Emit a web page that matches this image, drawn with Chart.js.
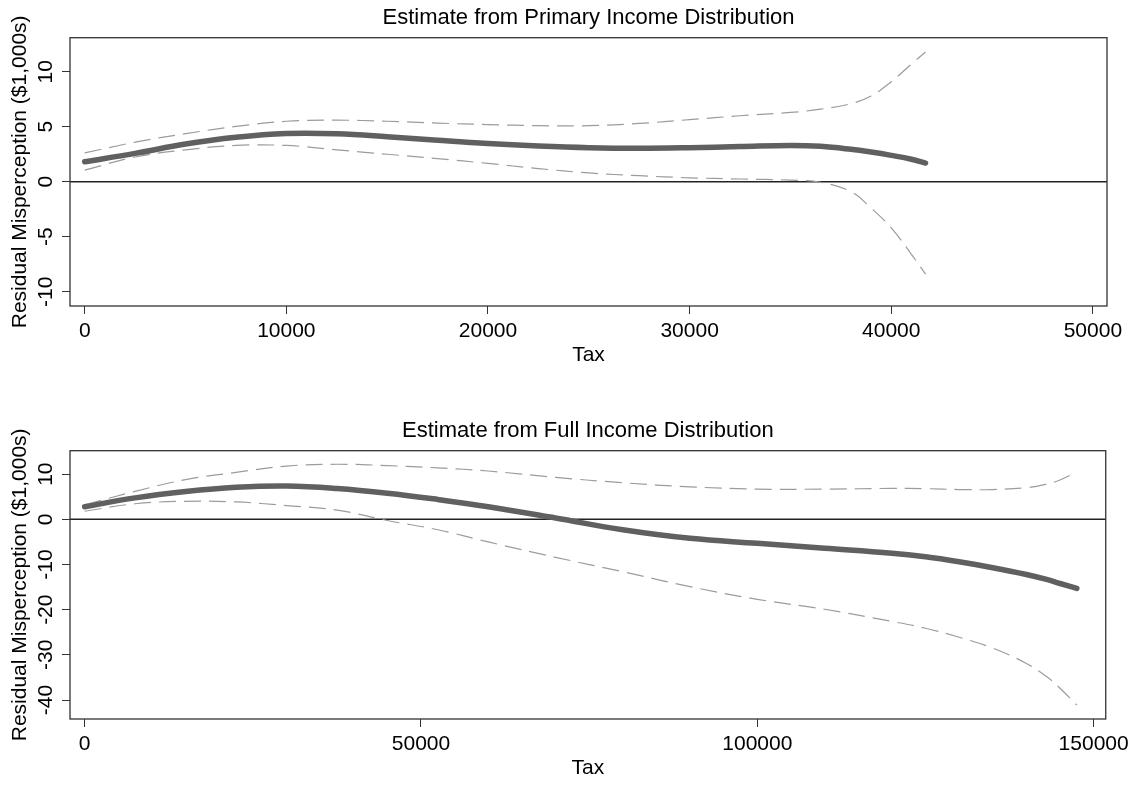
<!DOCTYPE html>
<html>
<head>
<meta charset="utf-8">
<script src="https://cdn.jsdelivr.net/npm/chart.js@4.4.1/dist/chart.umd.min.js"></script>
<style>
  html, body { margin: 0; padding: 0; background: #fff; overflow: hidden; }
  .panel { position: absolute; left: 0; width: 1134px; height: 373px; }
  #p1 { top: 0; }
  #p2 { top: 413px; }
</style>
</head>
<body>
<div class="panel" id="p1"><canvas id="chart1"></canvas></div>
<div class="panel" id="p2"><canvas id="chart2"></canvas></div>
<script>
// top panel: primary income distribution
const topTax = [0, 2500, 5000, 7500, 10000, 12500, 15000, 17500, 20000, 22500, 25000, 27500, 30000, 32500, 35000, 36500, 38000, 39000, 40000, 41000, 41700];
const topFit = [1.82, 2.58, 3.43, 4.04, 4.38, 4.36, 4.1, 3.77, 3.47, 3.25, 3.1, 3.05, 3.1, 3.2, 3.3, 3.22, 2.95, 2.7, 2.4, 2.05, 1.7];
const topUpper = [2.62, 3.6, 4.37, 5.03, 5.5, 5.6, 5.5, 5.33, 5.2, 5.1, 5.1, 5.3, 5.65, 6.0, 6.3, 6.6, 7.1, 7.8, 9.1, 10.7, 11.8];
const topLower = [1.06, 2.25, 2.9, 3.3, 3.3, 2.9, 2.5, 2.1, 1.67, 1.2, 0.8, 0.55, 0.36, 0.25, 0.15, -0.05, -0.9, -2.4, -4.2, -6.6, -8.4];
const topXTicks = [0, 10000, 20000, 30000, 40000, 50000];
const topYTicks = [-10, -5, 0, 5, 10];

// bottom panel: full income distribution
const fullTax = [0, 7500, 15000, 22500, 30000, 37500, 45000, 52500, 60000, 70000, 80000, 90000, 100000, 110000, 120000, 125000, 130000, 135000, 140000, 143000, 145000, 147500];
const fullFit = [2.8, 4.75, 6.15, 7.1, 7.4, 6.85, 5.8, 4.4, 2.8, 0.3, -2.3, -4.2, -5.3, -6.4, -7.5, -8.3, -9.4, -10.7, -12.2, -13.3, -14.2, -15.3];
const fullUpper = [3.2, 6.2, 8.8, 10.4, 11.8, 12.2, 11.9, 11.4, 10.7, 9.3, 8.1, 7.2, 6.7, 6.7, 6.85, 6.8, 6.6, 6.6, 7.0, 7.8, 8.7, 10.5];
const fullLower = [1.8, 3.45, 4.0, 3.85, 3.05, 2.05, -0.25, -2.3, -5.0, -8.4, -11.6, -14.9, -17.7, -19.9, -22.6, -24.1, -26.1, -28.5, -31.9, -34.8, -37.4, -41.1];
const fullXTicks = [0, 50000, 100000, 150000];
const fullYTicks = [-40, -30, -20, -10, 0, 10];

const refLine = 0;
const FONT = "'Liberation Sans', Arial, sans-serif";

function pts(xs, ys) {
  return xs.map((x, i) => ({ x: x, y: ys[i] }));
}

// box round the plot, zero line, and R-style vertical y tick labels
const rStyle = {
  id: "rStyle",
  beforeDatasetsDraw(chart) {
    const { ctx, chartArea, scales } = chart;
    const py = scales.y.getPixelForValue(refLine);
    ctx.save();
    ctx.strokeStyle = "#222";
    ctx.lineWidth = 1.5;
    ctx.beginPath();
    ctx.moveTo(chartArea.left, py);
    ctx.lineTo(chartArea.right, py);
    ctx.stroke();
    ctx.restore();
  },
  afterDraw(chart) {
    const { ctx, chartArea, scales } = chart;
    ctx.save();
    ctx.strokeStyle = "#333";
    ctx.lineWidth = 1.3;
    ctx.strokeRect(chartArea.left, chartArea.top, chartArea.right - chartArea.left, chartArea.bottom - chartArea.top);
    ctx.fillStyle = "#000";
    ctx.font = "21px " + FONT;
    ctx.textAlign = "center";
    ctx.textBaseline = "alphabetic";
    scales.y.ticks.forEach((t) => {
      const py = scales.y.getPixelForValue(t.value);
      ctx.save();
      ctx.translate(51.5, py);
      ctx.rotate(-Math.PI / 2);
      ctx.fillText(String(t.value), 0, 0);
      ctx.restore();
    });
    ctx.restore();
  },
};

function makeChart(id, title, xs, fit, upper, lower, xRange, yRange, xTicks, yTicks) {
  const band = {
    borderColor: "#9c9c9c",
    borderWidth: 1.2,
    borderDash: [17, 8],
    pointRadius: 0,
    showLine: true,
    fill: false,
    tension: 0.4,
  };
  return new Chart(document.getElementById(id).getContext("2d"), {
    type: "scatter",
    data: {
      datasets: [
        {
          data: pts(xs, fit),
          borderColor: "#606060",
          borderWidth: 5.5,
          borderCapStyle: "round",
          pointRadius: 0,
          showLine: true,
          fill: false,
          tension: 0.4,
        },
        Object.assign({ data: pts(xs, upper) }, band),
        Object.assign({ data: pts(xs, lower) }, band),
      ],
    },
    options: {
      responsive: true,
      maintainAspectRatio: false,
      animation: false,
      layout: { padding: { left: 0, right: 27, top: 0, bottom: 0 } },
      scales: {
        x: {
          type: "linear",
          min: xRange[0],
          max: xRange[1],
          afterBuildTicks: (s) => { s.ticks = xTicks.map((v) => ({ value: v })); },
          afterFit: (s) => { s.height = 67; },
          border: { display: false },
          grid: { drawOnChartArea: false, drawTicks: true, tickLength: 8, color: "#333", lineWidth: 1 },
          ticks: {
            color: "#000",
            font: { family: FONT, size: 21 },
            padding: 5,
            maxRotation: 0,
            autoSkip: false,
            callback: (v) => String(v),
          },
          title: {
            display: true,
            text: "Tax",
            color: "#000",
            font: { family: FONT, size: 21 },
            padding: { top: 0, bottom: 4.7 },
          },
        },
        y: {
          type: "linear",
          min: yRange[0],
          max: yRange[1],
          afterBuildTicks: (s) => { s.ticks = yTicks.map((v) => ({ value: v })); },
          afterFit: (s) => { s.width = 70; },
          border: { display: false },
          grid: { drawOnChartArea: false, drawTicks: true, tickLength: 8, color: "#333", lineWidth: 1 },
          ticks: { display: false },
          title: {
            display: true,
            text: "Residual Misperception ($1,000s)",
            color: "#000",
            font: { family: FONT, size: 21 },
            padding: { top: 7.3, bottom: 0 },
          },
        },
      },
      plugins: {
        legend: { display: false },
        tooltip: { enabled: false },
        title: {
          display: true,
          text: title,
          fullSize: false,
          color: "#000",
          font: { family: FONT, size: 22, weight: "normal" },
          padding: { top: 4.8, bottom: 6.5 },
        },
      },
    },
    plugins: [rStyle],
  });
}

makeChart("chart1", "Estimate from Primary Income Distribution", topTax, topFit, topUpper, topLower,
  [-730, 50700], [-11.3, 13.1], topXTicks, topYTicks);
makeChart("chart2", "Estimate from Full Income Distribution", fullTax, fullFit, fullUpper, fullLower,
  [-2180, 151800], [-44.2, 15.2], fullXTicks, fullYTicks);
</script>
</body>
</html>
